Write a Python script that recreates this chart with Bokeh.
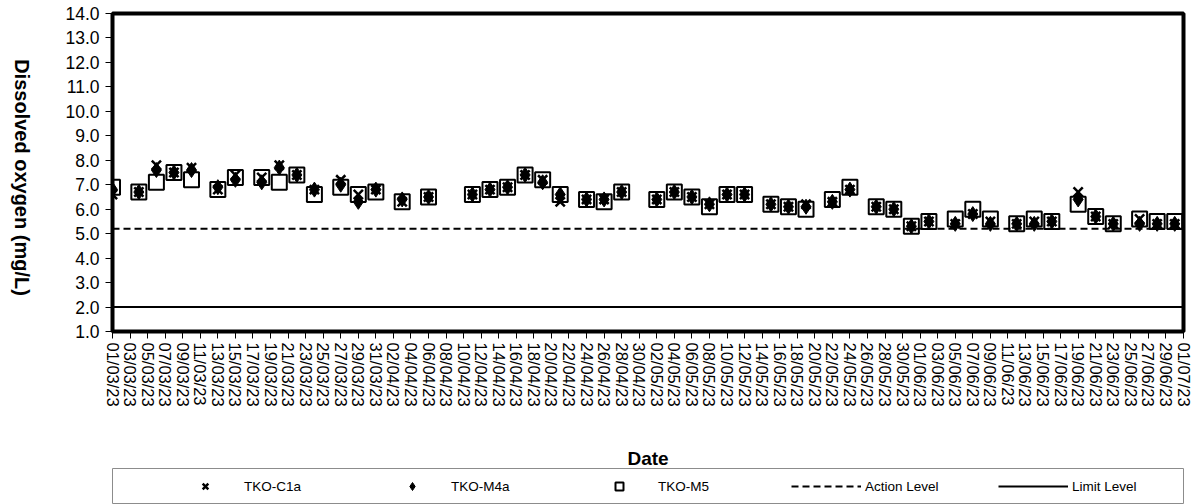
import math
import pandas as pd
from bokeh.plotting import figure
from bokeh.layouts import column, row
from bokeh.models import (Range1d, FixedTicker, DatetimeTickFormatter, PrintfTickFormatter,
                          Legend, LegendItem, ColumnDataSource, Label)
from bokeh.embed import file_html
from bokeh.resources import INLINE

# ---------------- data ----------------
dates = ["01/03/23", "04/03/23", "06/03/23", "08/03/23", "10/03/23", "13/03/23", "15/03/23",
         "18/03/23", "20/03/23", "22/03/23", "24/03/23", "27/03/23", "29/03/23", "31/03/23",
         "03/04/23", "06/04/23", "11/04/23", "13/04/23", "15/04/23", "17/04/23", "19/04/23",
         "21/04/23", "24/04/23", "26/04/23", "28/04/23",
         "02/05/23", "04/05/23", "06/05/23", "08/05/23", "10/05/23", "12/05/23", "15/05/23",
         "17/05/23", "19/05/23", "22/05/23", "24/05/23", "27/05/23", "29/05/23", "31/05/23",
         "02/06/23", "05/06/23", "07/06/23", "09/06/23", "12/06/23", "14/06/23", "16/06/23",
         "19/06/23", "21/06/23", "23/06/23", "26/06/23", "28/06/23", "30/06/23"]

tko_c1a = [6.6, 6.7, 7.8, 7.5, 7.7, 6.8, 7.4, 7.3, 7.8, 7.4, 6.8, 7.2, 6.6, 6.8,
           6.3, 6.5, 6.6, 6.8, 6.9, 7.4, 7.2, 6.3, 6.4, 6.4, 6.7,
           6.4, 6.7, 6.5, 6.2, 6.6, 6.6, 6.2, 6.1, 6.2, 6.3, 6.8, 6.1, 6.0, 5.3,
           5.5, 5.4, 5.8, 5.5, 5.4, 5.5, 5.5, 6.7, 5.7, 5.4, 5.6, 5.4, 5.4]

tko_m4a = [6.8, 6.7, 7.6, 7.5, 7.6, 6.9, 7.2, 7.1, 7.7, 7.4, 6.8, 7.0, 6.3, 6.8,
           6.4, 6.5, 6.6, 6.8, 6.9, 7.4, 7.1, 6.6, 6.4, 6.4, 6.7,
           6.4, 6.7, 6.5, 6.2, 6.6, 6.6, 6.2, 6.1, 6.1, 6.3, 6.8, 6.1, 6.0, 5.3,
           5.5, 5.4, 5.8, 5.4, 5.4, 5.4, 5.5, 6.4, 5.7, 5.4, 5.4, 5.4, 5.4]

tko_m5 = [6.9, 6.7, 7.1, 7.5, 7.2, 6.8, 7.3, 7.3, 7.1, 7.4, 6.6, 6.9, 6.6, 6.7,
          6.3, 6.5, 6.6, 6.8, 6.9, 7.4, 7.2, 6.6, 6.4, 6.3, 6.7,
          6.4, 6.7, 6.5, 6.1, 6.6, 6.6, 6.2, 6.1, 6.0, 6.4, 6.9, 6.1, 6.0, 5.3,
          5.5, 5.6, 6.0, 5.6, 5.4, 5.6, 5.5, 6.2, 5.7, 5.4, 5.6, 5.5, 5.5]

action_level = 5.2
limit_level = 2.0

axis_start = "01/03/23"
axis_end = "01/07/23"
y_min, y_max = 1.0, 14.0

y_title = "Dissolved oxygen (mg/L)"
x_title = "Date"
series_labels = ["TKO-C1a", "TKO-M4a", "TKO-M5", "Action Level", "Limit Level"]

# ---------------- build ----------------
FONT = "Liberation Sans"
LEFT_W = 40          # width of the strip that carries the y-axis title
MAIN_W = 1201 - LEFT_W

x = pd.to_datetime(dates, format="%d/%m/%y")
t0 = pd.to_datetime(axis_start, format="%d/%m/%y")
t1 = pd.to_datetime(axis_end, format="%d/%m/%y")
tick_dates = pd.date_range(t0, t1, freq="2D")
tick_ms = [t.value / 1e6 for t in tick_dates]

src = ColumnDataSource(dict(x=x, c1a=tko_c1a, m4a=tko_m4a, m5=tko_m5))
lvl = ColumnDataSource(dict(x=[t0, t1], action=[action_level] * 2, limit=[limit_level] * 2))

p = figure(width=MAIN_W, height=411, x_axis_type="datetime",
           x_range=Range1d(t0.value / 1e6, t1.value / 1e6), y_range=Range1d(y_min, y_max),
           output_backend="svg", toolbar_location=None,
           min_border_left=112 - LEFT_W, min_border_right=18, min_border_top=13,
           min_border_bottom=80)

p.background_fill_color = "white"
p.border_fill_color = "white"
p.outline_line_color = "black"
p.outline_line_width = 4
p.grid.visible = False

STY = dict(
    c1a=dict(marker="x", size=13, line_color="black", line_width=2.5),
    m4a=dict(marker="diamond", size=15, fill_color="black", line_color="black"),
    m5=dict(marker="square", size=15, fill_alpha=0, line_color="black", line_width=2),
    act=dict(line_color="black", line_width=2, line_dash="7 4"),
    lim=dict(line_color="black", line_width=2),
)

p.line("x", "action", source=lvl, **STY["act"])
p.line("x", "limit", source=lvl, **STY["lim"])
p.scatter("x", "m5", source=src, **STY["m5"])
p.scatter("x", "m4a", source=src, **STY["m4a"])
p.scatter("x", "c1a", source=src, **STY["c1a"])

# y axis
p.yaxis.ticker = FixedTicker(ticks=[float(v) for v in range(1, 15)], minor_ticks=[])
p.yaxis.formatter = PrintfTickFormatter(format="%.1f")
p.yaxis.major_label_text_font = FONT
p.yaxis.major_label_text_font_size = "17.5px"
p.yaxis.major_label_text_color = "black"
p.yaxis.major_tick_out = 7
p.yaxis.major_tick_in = 0
p.yaxis.major_label_standoff = 6
p.yaxis.axis_line_color = None

# x axis
p.xaxis.ticker = FixedTicker(ticks=tick_ms, minor_ticks=[])
fmt = "%d/%m/%y"
p.xaxis.formatter = DatetimeTickFormatter(days=fmt, months=fmt, years=fmt, hours=fmt,
                                          hourmin=fmt, minutes=fmt)
p.xaxis.major_label_orientation = -math.pi / 2
p.xaxis.major_label_text_font = FONT
p.xaxis.major_label_text_font_size = "16.5px"
p.xaxis.major_label_text_color = "black"
p.xaxis.major_tick_out = 7
p.xaxis.major_tick_in = 0
p.xaxis.major_label_standoff = 4
p.xaxis.axis_line_color = None

# ---------------- left strip: y-axis title reading top-to-bottom ----------------
yt = figure(width=LEFT_W, height=504, x_range=Range1d(0, LEFT_W), y_range=Range1d(0, 504),
            output_backend="svg", toolbar_location=None,
            x_axis_location=None, y_axis_location=None,
            min_border=0)
yt.grid.visible = False
yt.outline_line_color = None
yt.background_fill_color = "white"
yt.border_fill_color = "white"
yt.add_layout(Label(x=21, y=504 - 177, text=y_title, angle=-math.pi / 2,
                    text_align="center", text_baseline="middle", text_font=FONT,
                    text_font_style="bold", text_font_size="20px", text_color="black"))

# ---------------- legend strip (with the x-axis title) ----------------
lg = figure(width=MAIN_W, height=93, x_range=Range1d(0, 1), y_range=Range1d(0, 1),
            output_backend="svg", toolbar_location=None,
            x_axis_location=None, y_axis_location=None,
            min_border_left=107 - LEFT_W, min_border_right=4, min_border_top=57,
            min_border_bottom=1)
lg.grid.visible = False
lg.outline_line_color = "#8c8c8c"
lg.outline_line_width = 1
lg.background_fill_color = "white"
lg.border_fill_color = "white"
lg.title.text = x_title
lg.title.align = "center"
lg.title.text_font = FONT
lg.title.text_font_style = "bold"
lg.title.text_font_size = "19px"
lg.title.text_color = "black"
lg.title.standoff = 0

blank = ColumnDataSource(dict(x=[float("nan")], y=[float("nan")]))
l_c1 = lg.scatter("x", "y", source=blank, **STY["c1a"])
l_m4 = lg.scatter("x", "y", source=blank, **STY["m4a"])
l_m5 = lg.scatter("x", "y", source=blank, **STY["m5"])
l_act = lg.line("x", "y", source=blank, **STY["act"])
l_lim = lg.line("x", "y", source=blank, **STY["lim"])

legend = Legend(items=[LegendItem(label=lab, renderers=[r]) for lab, r in
                       zip(series_labels, [l_c1, l_m4, l_m5, l_act, l_lim])],
                orientation="horizontal", location=(58, 7),
                glyph_width=70, glyph_height=20, label_height=20, label_width=130,
                label_standoff=4, spacing=3, padding=0, margin=0,
                border_line_color=None, background_fill_alpha=0,
                label_text_font=FONT, label_text_font_size="13.5px", label_text_color="black")
lg.add_layout(legend)

layout = row(yt, column(p, lg, spacing=0), spacing=0)
open("out.html", "w").write(file_html(layout, INLINE))
